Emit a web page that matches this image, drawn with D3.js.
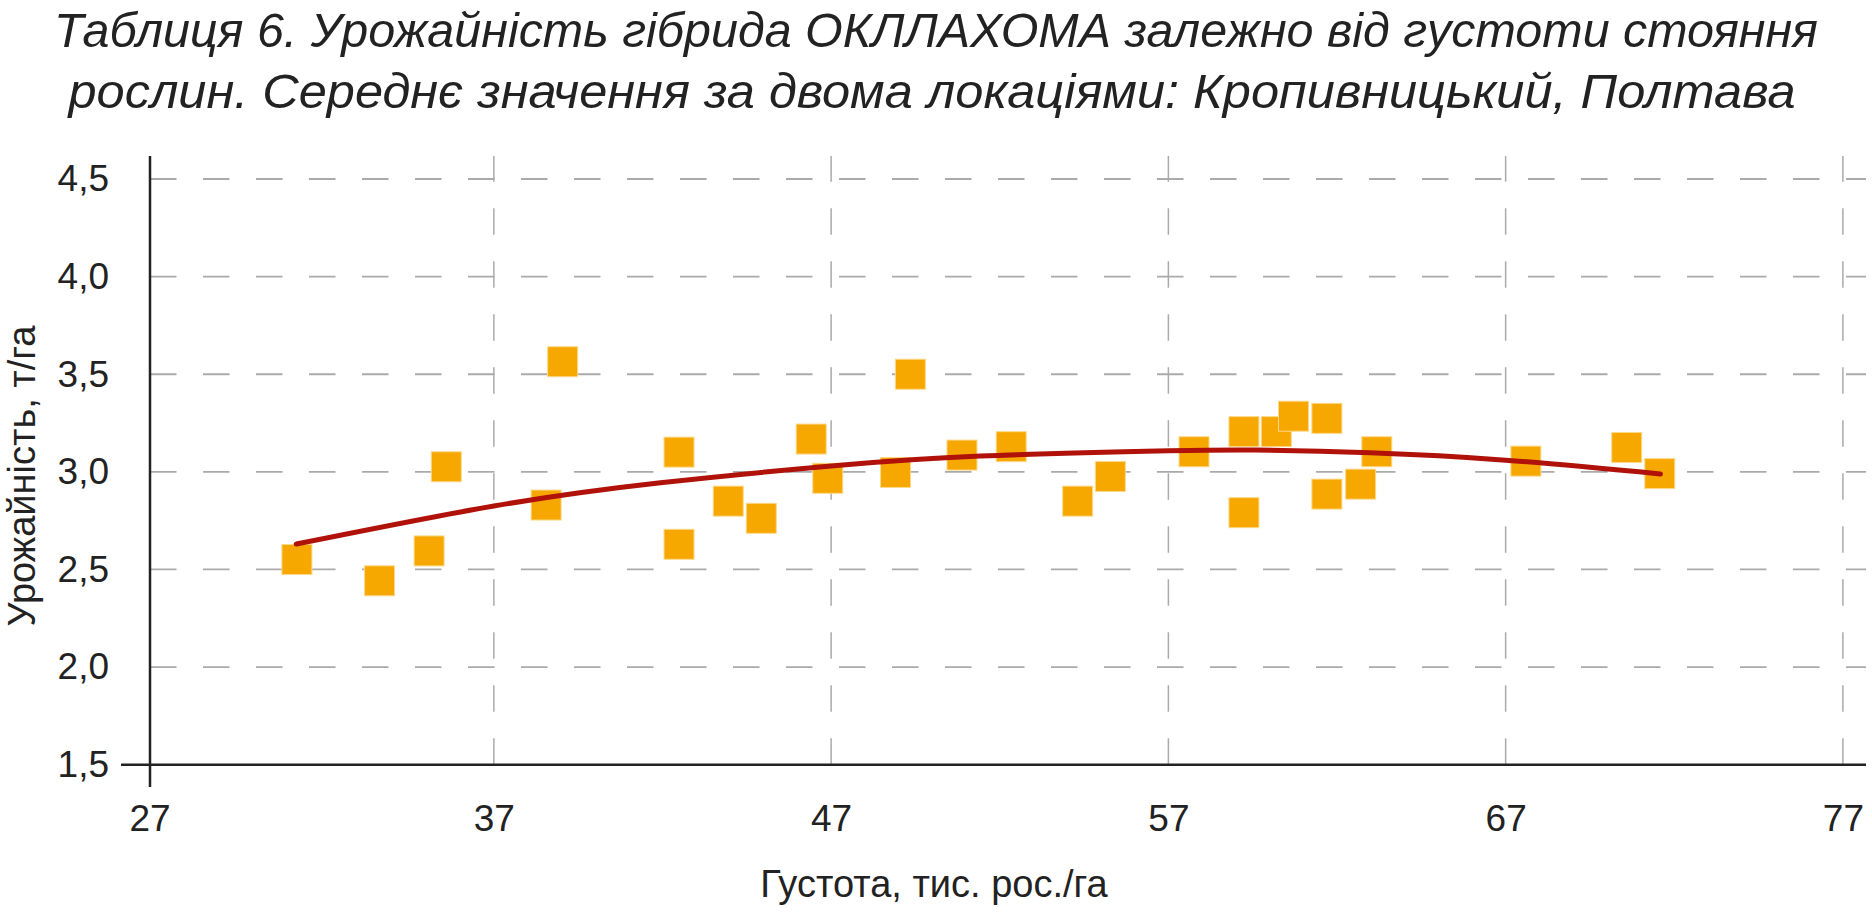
<!DOCTYPE html>
<html>

<head>
  <meta charset="utf-8">
  <script src="https://cdn.jsdelivr.net/npm/d3@7/dist/d3.min.js"></script>
  <style>
    body {
      margin: 0;
      background: white;
    }

    text {
      font-family: "Liberation Sans", Arial, Helvetica, sans-serif;
      fill: #222;
    }
  </style>
</head>

<body>
  <script>
    const titleLines = [
      'Таблиця 6. Урожайність гібрида ОКЛЛАХОМА залежно від густоти стояння',
      'рослин. Середнє значення за двома локаціями: Кропивницький, Полтава'
    ]
    const xLabel = 'Густота, тис. рос./га'
    const yLabel = 'Урожайність, т/га'

    const xTicks = [27, 37, 47, 57, 67, 77]
    const yTicks = [1.5, 2.0, 2.5, 3.0, 3.5, 4.0, 4.5]

    // density (thousand plants/ha) and yield (t/ha)
    const density = [31.16, 33.61, 35.08, 35.59, 38.55, 39.04, 42.49, 42.49, 43.95, 44.93,
      46.41, 46.90, 48.91, 49.35, 50.88, 52.34, 54.31, 55.28, 57.76, 59.24,
      59.24, 60.20, 60.71, 61.70, 61.70, 62.70, 63.18, 67.60, 70.59, 71.57]
    const yieldT = [2.551, 2.442, 2.595, 3.026, 2.830, 3.564, 3.101, 2.629, 2.850, 2.762,
      3.168, 2.967, 2.997, 3.500, 3.086, 3.129, 2.850, 2.976, 3.103, 3.206,
      2.791, 3.206, 3.285, 3.274, 2.886, 2.937, 3.103, 3.055, 3.125, 2.991]

    // trend line
    const trendX = [31.14, 37, 41.94, 47, 51.42, 57, 59.58, 62.98, 67, 71.59]
    const trendY = [2.63, 2.825, 2.944, 3.03, 3.081, 3.108, 3.112, 3.098, 3.06, 2.989]

    const W = 1872, H = 913
    const svg = d3.select('body').append('svg')
      .attr('width', W)
      .attr('height', H)

    const x = d3.scaleLinear().domain([27, 77]).range([156.6, 1842.9])
    const y = d3.scaleLinear().domain([1.5, 4.5]).range([764.7, 179])
    const axisX = 150
    const plotTop = 156
    const plotRight = 1866

    const fmt = d3.formatLocale({ decimal: ',', thousands: ' ', grouping: [3], currency: ['', ''] }).format('.1f')

    // title
    const titleWidths = [1764, 1727]
    svg.append('g').selectAll('text')
      .data(titleLines)
      .join('text')
      .attr('x', (d, i) => i ? 932 : 936)
      .attr('y', (d, i) => 47 + i * 61)
      .attr('text-anchor', 'middle')
      .attr('font-size', 49)
      .attr('font-style', 'italic')
      .attr('textLength', (d, i) => titleWidths[i])
      .attr('lengthAdjust', 'spacingAndGlyphs')
      .text(d => d)

    // grid
    const grid = svg.append('g')
      .attr('stroke', '#aaa')
      .attr('stroke-width', 1.8)
      .attr('stroke-dasharray', '26.5,26.5')

    grid.selectAll('.hgrid')
      .data(yTicks.filter(d => d > 1.5))
      .join('line')
      .attr('x1', axisX)
      .attr('x2', plotRight)
      .attr('y1', d => y(d))
      .attr('y2', d => y(d))

    grid.selectAll('.vgrid')
      .data(xTicks.filter(d => d > 27))
      .join('line')
      .attr('stroke-width', 1.5)
      .attr('x1', d => x(d))
      .attr('x2', d => x(d))
      .attr('y1', y(1.5))
      .attr('y2', plotTop)

    // axes lines
    svg.append('line')
      .attr('x1', 121).attr('x2', plotRight)
      .attr('y1', y(1.5)).attr('y2', y(1.5))
      .attr('stroke', '#222').attr('stroke-width', 2.5)
    svg.append('line')
      .attr('x1', axisX).attr('x2', axisX)
      .attr('y1', plotTop).attr('y2', 787)
      .attr('stroke', '#222').attr('stroke-width', 2.5)

    // tick labels
    const xAxis = svg.append('g')
      .attr('transform', `translate(0,${y(1.5)})`)
      .call(d3.axisBottom(x).tickValues(xTicks).tickSize(0).tickPadding(40).tickFormat(d3.format('d')))
    // first label sits under the y axis line
    xAxis.selectAll('.tick').filter(d => d === 27)
      .attr('transform', `translate(${axisX},0)`)
    const yAxis = svg.append('g')
      .attr('transform', `translate(${axisX},0)`)
      .call(d3.axisLeft(y).tickValues(yTicks).tickSize(0).tickPadding(41).tickFormat(fmt))
    for (const a of [xAxis, yAxis]) {
      a.select('.domain').remove()
      a.selectAll('text')
        .attr('font-size', 37)
        .attr('font-family', '"Liberation Sans", Arial, sans-serif')
        .attr('fill', '#222')
    }

    // axis titles
    svg.append('text')
      .attr('x', 934)
      .attr('y', 897)
      .attr('text-anchor', 'middle')
      .attr('font-size', 38)
      .text(xLabel)
    svg.append('text')
      .attr('transform', 'translate(35,476) rotate(-90)')
      .attr('text-anchor', 'middle')
      .attr('font-size', 38)
      .text(yLabel)

    // points
    const sq = 30
    svg.append('g').selectAll('rect')
      .data(density.map((d, i) => [d, yieldT[i]]))
      .join('rect')
      .attr('x', d => x(d[0]) - sq / 2)
      .attr('y', d => y(d[1]) - sq / 2)
      .attr('width', sq)
      .attr('height', sq)
      .attr('fill', '#f7a800')
      .attr('stroke', '#fcd88a')
      .attr('stroke-width', 1)

    // trend
    const lineGen = d3.line()
      .x(d => x(d[0]))
      .y(d => y(d[1]))
      .curve(d3.curveNatural)
    svg.append('path')
      .attr('d', lineGen(trendX.map((d, i) => [d, trendY[i]])))
      .attr('fill', 'none')
      .attr('stroke', '#b0120a')
      .attr('stroke-width', 5)
      .attr('stroke-linecap', 'round')
  </script>
</body>

</html>
